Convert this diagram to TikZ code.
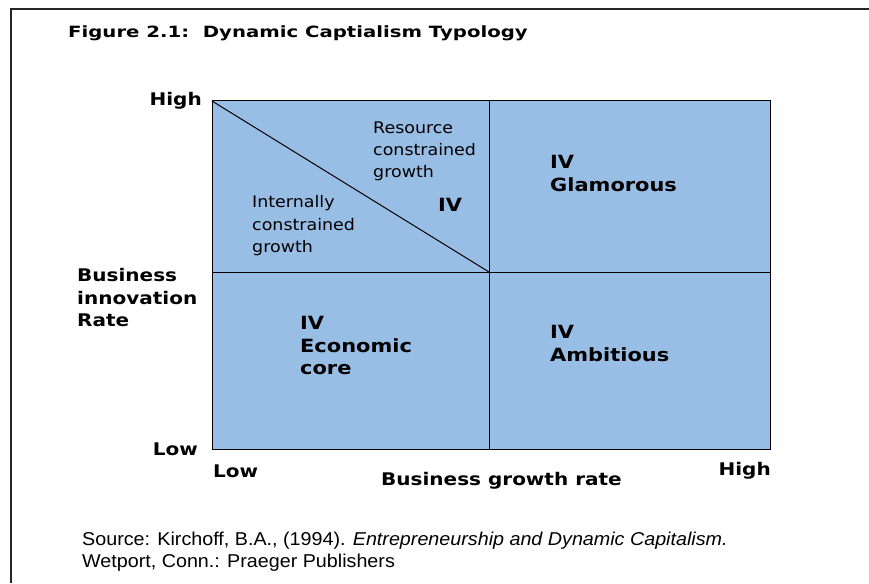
\documentclass[tikz,border=0pt]{standalone}
\usepackage{fontspec}
\setmainfont{Liberation Sans}
\newfontfamily\titlefont[FakeStretch=1.27]{DejaVu Sans}
\newfontfamily\labelfont[FakeStretch=1.15]{DejaVu Sans}
\newfontfamily\zonefont[FakeStretch=1.09]{DejaVu Sans}
\newfontfamily\srcfont[FakeStretch=1.06]{Liberation Sans}
\usepackage{tikz}
\usetikzlibrary{positioning}
\definecolor{quadblue}{RGB}{153,190,229}
\begin{document}
\begin{tikzpicture}[x=1pt,y=-1pt,inner sep=0pt]
  \tikzstyle{axis}=[font=\labelfont\fontsize{17.4}{22.7}\selectfont\bfseries,align=left]
  \tikzstyle{quad}=[font=\labelfont\fontsize{18.2}{22.7}\selectfont\bfseries,align=left,anchor=north west]
  \tikzstyle{zone}=[font=\zonefont\fontsize{16}{22.2}\selectfont,align=left,anchor=north west]
  \useasboundingbox(0,0)rectangle(869,583);
  \draw[line width=1.3pt,black!85](869,9)--(11,9)--(11,583);
  \node[font=\titlefont\fontsize{15.5}{20}\selectfont\bfseries,anchor=base west](title)at(68,37.3){Figure 2.1:\ \ Dynamic Captialism Typology};
  % the four cells
  \coordinate(nw)at(212,101);\coordinate(mid)at(489,272);\coordinate(se)at(770,449);
  \fill[quadblue](nw)rectangle(se);
  \draw[line width=1pt](nw)rectangle(se);
  \draw[line width=1pt](nw-|mid)--(se-|mid) (nw|-mid)--(se|-mid);
  \draw[line width=1pt](nw)--(mid);
  % axis labels
  \node[axis,anchor=base east](yhigh)at(202,106){High};
  \node[axis,anchor=base east](ylow)at(198,455){Low};
  \node[axis,anchor=north west](ytitle)at(77,268){Business\\innovation\\Rate};
  \node[axis,anchor=base west](xlow)at(213,477){Low};
  \node[axis,anchor=base east](xhigh)at(771,475){High};
  \node[axis,anchor=base west](xtitle)at(381,485.7){Business growth rate};
  % cell texts
  \node[zone](resource)at(373,121.7){Resource\\constrained\\growth};
  \node[zone](internal)at(252,195.5){Internally\\constrained\\growth};
  \node[quad](iv)at(438,198){IV};
  \node[quad](glam)at(550,155){IV\\Glamorous};
  \node[quad](econ)at(300,316){IV\\Economic\\core};
  \node[quad](ambi)at(550,325){IV\\Ambitious};
  \node[font=\srcfont\fontsize{18.6}{22}\selectfont,align=left,anchor=north west](source)at(82,531.7){Source: Kirchoff, B.A., (1994). \textit{Entrepreneurship and Dynamic Capitalism.}\\Wetport, Conn.: Praeger Publishers};
\end{tikzpicture}
\end{document}
